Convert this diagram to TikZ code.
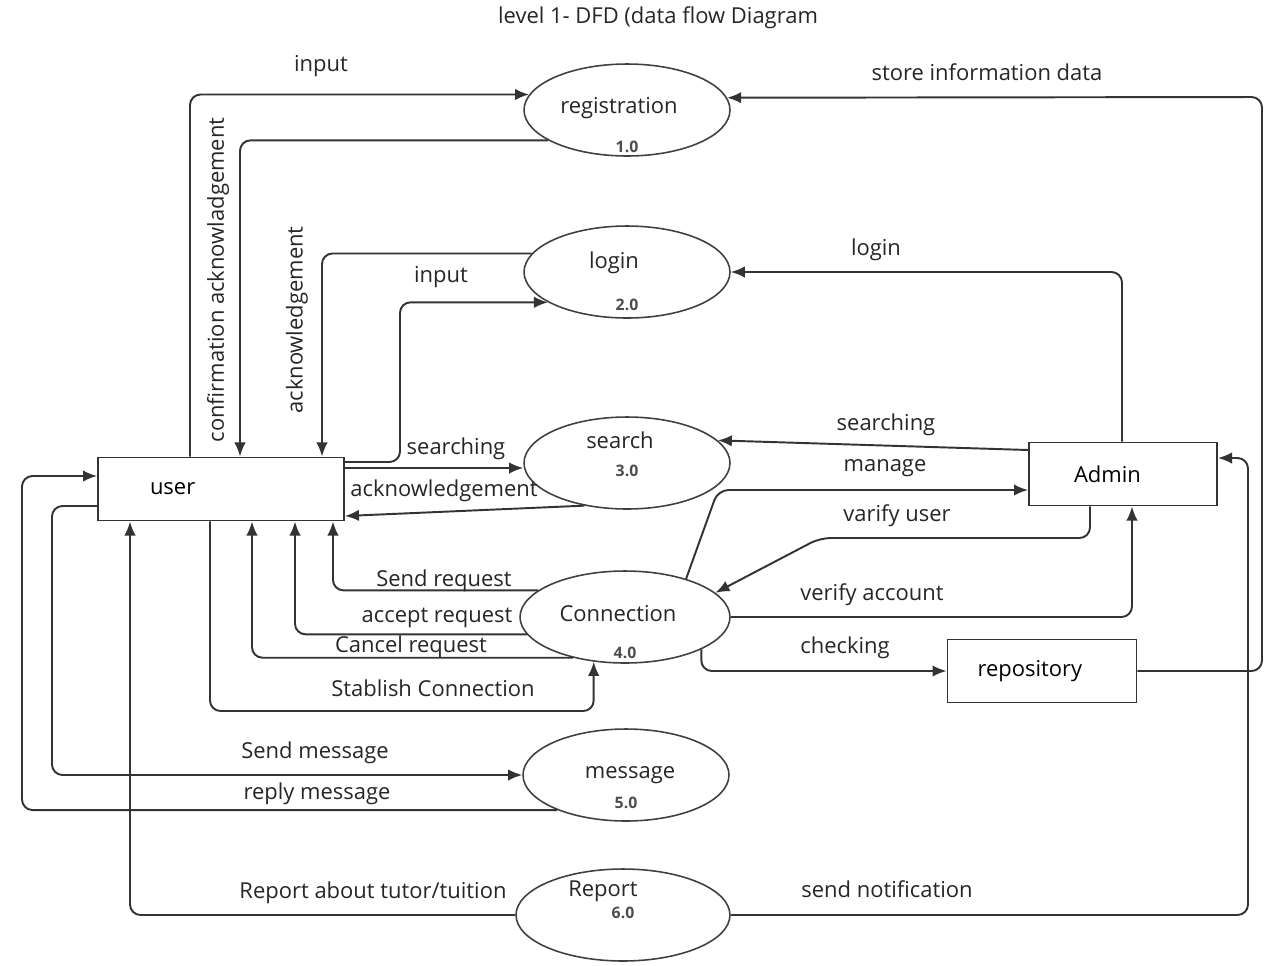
\documentclass[tikz,border=0pt]{standalone}
\usepackage{fontspec}
\setmainfont{Open Sans}
\usetikzlibrary{arrows.meta,shapes.geometric}

\begin{document}
\begin{tikzpicture}[x=0.02cm,y=-0.02cm,
    font=\fontsize{12.5}{15}\selectfont,
    flow/.style={draw=black!80,line width=1.1pt,rounded corners=6pt,-{Latex[length=8pt,width=6.5pt]}},
    proc/.style={ellipse,draw=black!75,line width=0.9pt,minimum height=1.84cm,inner sep=0pt},
    ent/.style={rectangle,draw=black!80,line width=1.1pt,minimum height=1.26cm,align=left},
    lbl/.style={text=black!85,inner sep=1pt},
    num/.style={font=\fontsize{9}{10}\selectfont\bfseries,text=black!70,inner sep=1pt}]
    \useasboundingbox (0,0) rectangle (1269,965);
    % processes
    \foreach \p/\x/\y/\w/\tx/\ty/\t/\n/\ny in {reg/627/110/4.12/619/108/registration/1.0/147,
        login/627/272/4.12/614/263/login/2.0/305, search/627/463/4.12/620/440/search/3.0/471,
        conn/625/617/4.2/618/614/Connection/4.0/653, msg/626/775/4.12/630/775/message/5.0/803,
        report/623/915/4.28/603/891/Report/6.0/913}
    {
        \node[proc,minimum width=\w cm] (\p) at (\x,\y) {};
        \node[lbl] (\p-t) at (\tx,\ty) {\t};
        \node[num] (\p-n) at (\x,\ny) {\n};
    }
    \node[ent,text width=2.84cm,inner xsep=1.04cm] (user) at (221,489) {user};
    \node[ent,text width=1.96cm,inner xsep=0.9cm] (admin) at (1123,474) {Admin};
    \node[ent,text width=2.58cm,inner xsep=0.6cm] (repo) at (1042,671) {repository};
    % flows of user
    \draw[flow] (user.north -| 190,0) |- (reg.171);
    \draw[flow] (reg.201) -| (user.north -| 240,0);
    \draw[flow] (login.169) -| (user.north -| 322,0);
    \draw[flow] (user.east |- 0,462) -| (login.201 -| 400,0) -- (login.201);
    \draw[flow] (user.east |- 0,468) -- (search.west |- 0,468);
    \draw[flow] (search.225) -- (user.east |- 0,516);
    \draw[flow] (conn.163) -| (user.south -| 333,0);
    \draw[flow] (conn.190) -| (user.south -| 295,0);
    \draw[flow] (conn.218) -| (user.south -| 252,0);
    \draw[flow] (user.south -| 210,0) |- (conn.235 |- 0,711) -- (conn.235);
    \draw[flow] (user.west |- 0,506) -| (msg.west -| 52,0) -- (msg.west);
    \draw[flow] (msg.207) -| (22,476) -- (user.west |- 0,476);
    \draw[flow] (report.west) -| (user.south -| 130,0);
    % flows of admin
    \draw[flow] (report.east) -| (1248,458) -- (admin.east |- 0,458);
    \draw[flow] (repo.east) -| (1262,97) -- (reg.7);
    \draw[flow] (admin.north -| 1122,0) |- (login.east);
    \draw[flow] (admin.west |- 0,450) -- (search.14);
    \draw[flow] (conn.32) -- (718,490) -- (admin.west |- 0,490);
    \draw[flow] (admin.south -| 1090,0) |- (820,538) -- (conn.15);
    \draw[flow] (conn.east) -| (admin.south -| 1132,0);
    \draw[flow] (conn.337) |- (repo.west);
    % labels
    \foreach \x/\y/\t [count=\i] in {321/66/input, 441/277/input, 456/449/searching,
        444/491/acknowledgement, 444/581/Send request, 437/618/accept request,
        411/647/Cancel request, 433/688/Stablish Connection, 315/753/Send message,
        317/794/reply message, 373/893/{Report about tutor/tuition}, 887/889/send notification,
        987/72/store information data, 876/250/login, 886/425/searching, 885/468/manage,
        897/516/varify user, 872/595/verify account, 845/648/checking}
        \node[lbl] (f\i) at (\x,\y) {\t};
    \node[lbl,rotate=90] (ca) at (218,280) {confirmation acknowladgement};
    \node[lbl,rotate=90] (ak) at (297,320) {acknowledgement};
    \node[lbl] (title) at (658,18) {level 1- DFD (data flow Diagram};
\end{tikzpicture}
\end{document}
